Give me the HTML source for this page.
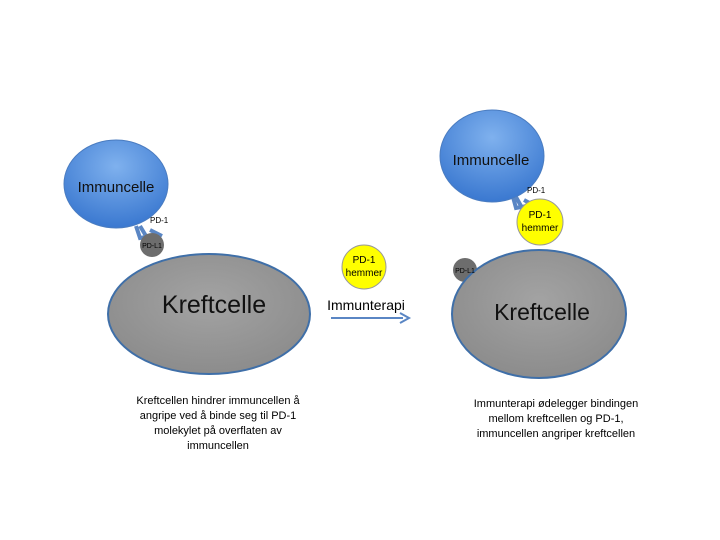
<!DOCTYPE html>
<html><head><meta charset="utf-8"><style>
body{margin:0;background:#fff;}
svg{display:block;font-family:"Liberation Sans",sans-serif;}
</style></head><body>
<svg width="720" height="540" viewBox="0 0 720 540">
<defs>
<radialGradient id="bl" cx="50%" cy="30%" r="70%">
<stop offset="0" stop-color="#7fb1ee"/><stop offset="1" stop-color="#3a78d0"/></radialGradient>
<radialGradient id="gr" cx="50%" cy="40%" r="60%">
<stop offset="0" stop-color="#a3a3a3"/><stop offset="1" stop-color="#8c8c8c"/></radialGradient>
</defs>
<!-- left -->
<path d="M136 226 L140 238 L152 236 M140 226 L146 236 M150 230 L162 236" stroke="#5a86c4" stroke-width="4" fill="none"/>
<ellipse cx="116" cy="184" rx="52" ry="44" fill="url(#bl)" stroke="#4a7cc0"/>
<circle cx="152" cy="245" r="12" fill="#6d6d6d"/>
<ellipse cx="209" cy="314" rx="101" ry="60" fill="url(#gr)" stroke="#3f6fa8" stroke-width="2"/>
<text x="116" y="192" font-size="15" text-anchor="middle" fill="#111">Immuncelle</text>
<text x="150" y="223" font-size="8">PD-1</text>
<text x="152" y="248" font-size="7" text-anchor="middle">PD-L1</text>
<text x="214" y="313" font-size="25" text-anchor="middle" fill="#111">Kreftcelle</text>
<!-- middle -->
<circle cx="364" cy="267" r="22" fill="#ffff00" stroke="#999"/>
<text x="364" y="263" font-size="10" text-anchor="middle">PD-1</text>
<text x="364" y="276" font-size="10" text-anchor="middle">hemmer</text>
<text x="366" y="310" font-size="14" text-anchor="middle">Immunterapi</text>
<line x1="331" y1="318" x2="403" y2="318" stroke="#5a86c4" stroke-width="2"/>
<path d="M400 313 L409 318 L400 323" stroke="#5a86c4" stroke-width="2" fill="none"/>
<!-- right -->
<path d="M513 197 L516 208 L527 206 M516 197 L521 206 M524 200 L535 206" stroke="#5a86c4" stroke-width="4" fill="none"/>
<ellipse cx="492" cy="156" rx="52" ry="46" fill="url(#bl)" stroke="#4a7cc0"/>
<circle cx="540" cy="222" r="23" fill="#ffff00" stroke="#999"/>
<text x="540" y="218" font-size="10" text-anchor="middle">PD-1</text>
<text x="540" y="231" font-size="10" text-anchor="middle">hemmer</text>
<text x="527" y="193" font-size="8">PD-1</text>
<circle cx="465" cy="270" r="12" fill="#6d6d6d"/>
<ellipse cx="539" cy="314" rx="87" ry="64" fill="url(#gr)" stroke="#3f6fa8" stroke-width="2"/>
<text x="465" y="273" font-size="7" text-anchor="middle">PD-L1</text>
<text x="491" y="165" font-size="15" text-anchor="middle" fill="#111">Immuncelle</text>
<text x="542" y="320" font-size="23" text-anchor="middle" fill="#111">Kreftcelle</text>
<!-- captions -->
<g font-size="11" text-anchor="middle">
<text x="218" y="404">Kreftcellen hindrer immuncellen å</text>
<text x="218" y="419">angripe ved å binde seg til PD-1</text>
<text x="218" y="434">molekylet på overflaten av</text>
<text x="218" y="449">immuncellen</text>
<text x="556" y="407">Immunterapi ødelegger bindingen</text>
<text x="556" y="422">mellom kreftcellen og PD-1,</text>
<text x="556" y="437">immuncellen angriper kreftcellen</text>
</g>
</svg>
</body></html>
